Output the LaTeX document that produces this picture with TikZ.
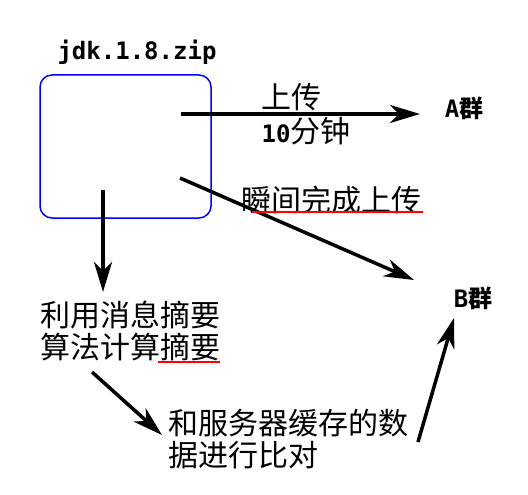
\documentclass[tikz,border=0pt]{standalone}
\usepackage{fontspec}
\setmonofont{DejaVu Sans Mono}
\newfontfamily\cjk{Noto Sans CJK SC}
\usetikzlibrary{arrows.meta,positioning}
\newcommand\mono[1]{{\ttfamily\bfseries\fontsize{24}{28}\selectfont #1}}

\begin{document}
\begin{tikzpicture}[x=1pt,y=-1pt,
arr/.style={line width=3.5pt,-{Stealth[length=30pt,width=18pt,inset=9pt]}},
cn/.style={font=\cjk\fontsize{30}{32}\selectfont,inner sep=0pt,align=left},
tt/.style={font=\ttfamily\bfseries\fontsize{24}{28}\selectfont,inner sep=0pt},
redline/.style={red,line width=2.5pt}]
\useasboundingbox (0,0) rectangle (528,495);

% file
\node[draw=blue,line width=1.5pt,rounded corners=12pt,minimum width=171pt,
minimum height=143pt,inner sep=0pt] (zip) at (125.5,146.5) {};
\node[tt] (zipname) at (137,52) {jdk.1.8.zip};

% groups
\node[tt] (ga) at (464,108) {A{\cjk 群}};
\node[tt] (gb) at (473,298) {B{\cjk 群}};

% slow upload
\coordinate (a0) at (181,114);
\coordinate (a1) at (420,114);
\draw[arr] (a0) -- (a1);
\node[cn] (up) at (291,97) {上传};
\node[cn] (slow) at (306,131) {\mono{10}分钟};

% instant upload
\coordinate (b0) at (180,178);
\coordinate (b1) at (414,280);
\draw[arr] (b0) -- (b1);
\node[cn] (fast) at (331,200) {瞬间完成上传};
\draw[redline] (252,212) -- (423,212);

% digest
\coordinate (c0) at (103,190);
\coordinate (c1) at (103,292);
\draw[arr] (c0) -- (c1);
\node[cn,anchor=west] (digest) at (40,331) {利用消息摘要\\算法计算摘要};
\draw[redline] (158,362) -- (220,362);

% compare
\coordinate (d0) at (92,372);
\coordinate (d1) at (162,435);
\draw[arr] (d0) -- (d1);
\node[cn,anchor=west] (check) at (168,439) {和服务器缓存的数\\据进行比对};

% to B
\coordinate (e0) at (418,442);
\coordinate (e1) at (454,318);
\draw[arr] (e0) -- (e1);
\end{tikzpicture}
\end{document}
